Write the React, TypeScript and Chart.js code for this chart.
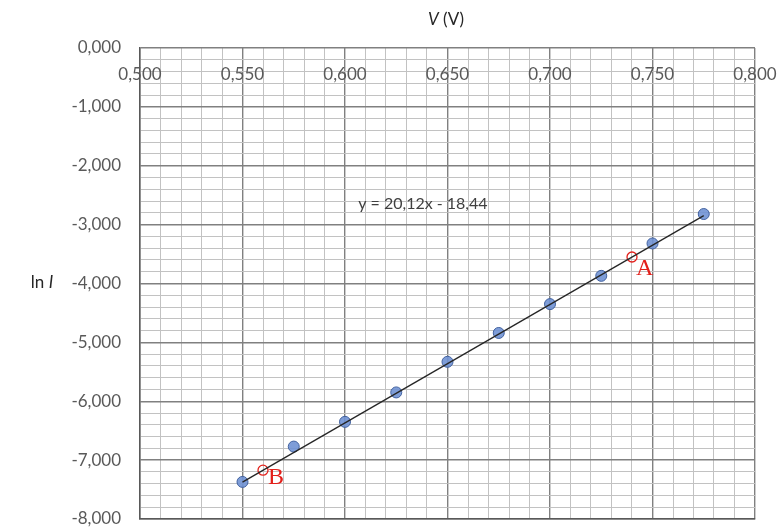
import React, { useEffect, useRef } from 'react';
import { Chart, registerables } from 'chart.js';

Chart.register(...registerables);

// ---- data ----
const voltage = [0.55, 0.575, 0.6, 0.625, 0.65, 0.675, 0.7, 0.725, 0.75, 0.775];
const lnCurrent = [-7.37, -6.77, -6.35, -5.85, -5.33, -4.84, -4.35, -3.87, -3.32, -2.82];
const slope = 20.12;
const intercept = -18.44;
const trendRange = [0.55, 0.775];
const markedNames = ['A', 'B'];
const markedX = [0.74, 0.56];
const markedY = [-3.55, -7.17];
const xTickValues = [0.5, 0.55, 0.6, 0.65, 0.7, 0.75, 0.8];
const equationText = 'y = 20,12x - 18,44';

const FONT = 'Lato, "Open Sans", sans-serif';
const TEXT = '#595959';
const MAJOR = '#808080';
const MINOR = '#c2c2c2';

const fmt = (v: number) => {
  const s = Math.abs(v) < 1e-9 ? 0 : v;
  return s.toFixed(3).replace('.', ',');
};
const isMult = (v: number, step: number) => Math.abs(v / step - Math.round(v / step)) < 1e-6;

const noPad = (s: any) => {
  s.paddingTop = 0;
  s.paddingBottom = 0;
  s.paddingLeft = 0;
  s.paddingRight = 0;
};

const overlay = {
  id: 'overlay',
  afterDatasetsDraw(chart: any) {
    const ctx = chart.ctx as CanvasRenderingContext2D;
    const xs = chart.scales.x;
    const ys = chart.scales.y;
    const area = chart.chartArea;
    ctx.save();
    // x tick labels under the top (y=0) line
    ctx.fillStyle = TEXT;
    ctx.font = `17px ${FONT}`;
    ctx.textAlign = 'center';
    ctx.textBaseline = 'middle';
    xTickValues.forEach((v) => {
      ctx.fillText(fmt(v), xs.getPixelForValue(v), area.top + 27);
    });
    // equation
    ctx.fillStyle = '#404040';
    ctx.font = `16px ${FONT}`;
    ctx.fillText(equationText, xs.getPixelForValue(0.638), ys.getPixelForValue(-2.65));

    const drawMixed = (parts: [string, boolean][], cx: number, cy: number, size: number) => {
      ctx.textAlign = 'left';
      ctx.textBaseline = 'middle';
      let total = 0;
      parts.forEach(([t, it]) => {
        ctx.font = `${it ? 'italic ' : ''}${size}px ${FONT}`;
        total += ctx.measureText(t).width;
      });
      let x = cx - total / 2;
      parts.forEach(([t, it]) => {
        ctx.font = `${it ? 'italic ' : ''}${size}px ${FONT}`;
        ctx.fillText(t, x, cy);
        x += ctx.measureText(t).width;
      });
    };
    ctx.fillStyle = '#262626';
    drawMixed([['V', true], [' (V)', false]], 446, 20, 17);
    drawMixed([['ln ', false], ['I', true]], 42, 283, 17);

    // A / B labels
    const dx = [4, 5];
    const dy = [18, 14];
    ctx.fillStyle = '#e3201b';
    ctx.font = '24px "Liberation Serif", "DejaVu Serif", serif';
    ctx.textAlign = 'left';
    ctx.textBaseline = 'alphabetic';
    markedNames.forEach((n, i) => {
      const px = xs.getPixelForValue(markedX[i]);
      const py = ys.getPixelForValue(markedY[i]);
      ctx.fillText(n, px + dx[i], py + dy[i]);
    });
    ctx.restore();
  },
};

export default function App() {
  const ref = useRef<HTMLCanvasElement>(null);
  useEffect(() => {
    if (!ref.current) return;
    const chart = new Chart(ref.current, {
      type: 'scatter',
      data: {
        datasets: [
          {
            type: 'line',
            data: trendRange.map((x) => ({ x, y: slope * x + intercept })),
            borderColor: '#262626',
            borderWidth: 1.3,
            pointRadius: 0,
            fill: false,
          } as any,
          {
            data: markedX.map((x, i) => ({ x, y: markedY[i] })),
            pointRadius: 5,
            pointBackgroundColor: 'rgba(255,255,255,0)',
            pointBorderColor: '#e3201b',
            pointBorderWidth: 1.3,
          },
          {
            data: voltage.map((x, i) => ({ x, y: lnCurrent[i] })),
            pointRadius: 5.5,
            pointBackgroundColor: 'rgba(112,146,212,0.9)',
            pointBorderColor: '#41619f',
            pointBorderWidth: 1,
          },
        ],
      },
      options: {
        animation: false,
        responsive: false,
        layout: { padding: { top: 48, right: 25, bottom: 11, left: 0 } },
        plugins: { legend: { display: false }, tooltip: { enabled: false } },
        scales: {
          x: {
            type: 'linear',
            position: 'bottom',
            min: 0.5,
            max: 0.8,
            ticks: { stepSize: 0.01, display: false },
            grid: {
              drawTicks: false,
              color: (c: any) => (isMult(c.tick?.value ?? 0, 0.05) ? MAJOR : MINOR),
              lineWidth: (c: any) => (isMult(c.tick?.value ?? 0, 0.05) ? 1.4 : 1),
            },
            border: { display: true, color: '#595959', width: 1.5 },
            afterFit: (s: any) => {
              s.height = 0;
              noPad(s);
            },
          },
          y: {
            type: 'linear',
            min: -8,
            max: 0,
            ticks: {
              stepSize: 0.2,
              autoSkip: false,
              padding: 19,
              color: TEXT,
              font: { family: FONT, size: 17 },
              callback: (v: any) => (isMult(Number(v), 1) ? fmt(Number(v)) : ''),
            },
            grid: {
              drawTicks: false,
              color: (c: any) => (isMult(c.tick?.value ?? 0, 1) ? MAJOR : MINOR),
              lineWidth: (c: any) => (isMult(c.tick?.value ?? 0, 1) ? 1.4 : 1),
            },
            border: { display: true, color: '#595959', width: 1.5 },
            afterFit: (s: any) => {
              s.width = 140;
              noPad(s);
            },
          },
        },
      },
      plugins: [overlay],
    });
    return () => chart.destroy();
  }, []);
  return (
    <div style={{ position: 'absolute', left: 0, top: 0, width: 780, height: 530, background: '#fff' }}>
      <canvas ref={ref} width={780} height={530} />
    </div>
  );
}
